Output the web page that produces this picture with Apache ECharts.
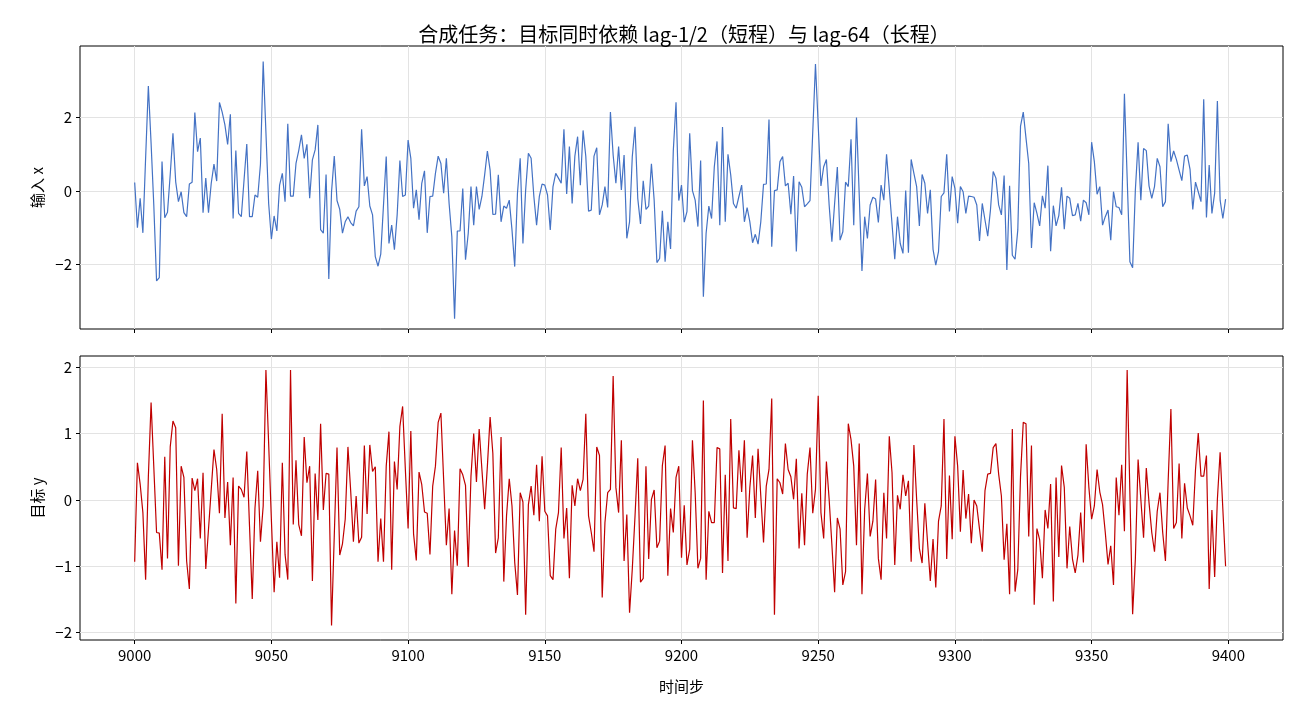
<!DOCTYPE html>
<html>
<head>
<meta charset="utf-8">
<script src="https://cdn.jsdelivr.net/npm/echarts@6/dist/echarts.min.js"></script>
<style>
html,body{margin:0;padding:0;background:#fff;}
#chart{width:1300px;height:715px;}
</style>
</head>
<body>
<div id="chart"></div>
<script>
// ---- data ----
const TITLE = '合成任务：目标同时依赖 lag-1/2（短程）与 lag-64（长程）';
const START_STEP = 9000;
const X_TICKS = [9000, 9050, 9100, 9150, 9200, 9250, 9300, 9350, 9400];
const TOP_Y_TICKS = [-2, 0, 2];
const BOTTOM_Y_TICKS = [-2, -1, 0, 1, 2];

const inputX = [
 0.23,-1.0,-0.2,-1.14,0.9,2.86,1.3,-0.4,-2.45,-2.36,
 0.8,-0.73,-0.58,0.45,1.57,0.25,-0.29,-0.02,-0.59,-0.7,
 0.19,0.24,2.14,1.07,1.44,-0.59,0.35,-0.59,0.21,0.73,
 0.27,2.41,2.15,1.8,1.27,2.09,-0.75,1.1,-0.61,-0.7,
 0.3,1.28,-0.7,-0.7,-0.11,-0.17,0.73,3.53,1.6,-0.34,
 -1.31,-0.68,-1.09,0.16,0.48,-0.29,1.83,-0.14,-0.14,0.75,
 1.1,1.53,0.89,1.27,-0.2,0.85,1.12,1.8,-1.05,-1.15,
 0.45,-2.4,-0.02,0.95,-0.26,-0.5,-1.15,-0.84,-0.7,-0.86,
 -0.95,-0.55,-0.43,1.68,0.14,0.39,-0.41,-0.65,-1.79,-2.05,
 -1.72,-0.39,0.94,-1.43,-0.93,-1.6,-0.65,0.83,-0.15,-0.11,
 1.39,0.89,-0.47,0.03,-0.78,0.21,0.55,-1.14,-0.15,-0.14,
 0.48,0.95,0.75,-0.06,0.89,-0.34,-1.25,-3.48,-1.09,-1.09,
 0.07,-1.87,-1.15,0.12,-0.93,0.12,-0.5,-0.15,0.44,1.09,
 0.57,-0.64,-0.63,0.44,-0.84,-0.41,-0.47,-0.25,-1.06,-2.06,
 -0.06,0.89,-1.43,0.03,1.03,0.89,-0.15,-0.93,-0.15,0.19,
 0.16,-0.11,-1.06,0.12,0.48,0.35,0.21,1.68,-0.08,1.21,
 -0.34,0.95,1.48,0.16,1.65,0.94,-0.55,-0.52,0.95,1.18,
 -0.65,-0.38,0.12,-0.45,2.15,0.98,0.21,1.21,0.03,0.98,
 -1.29,-0.84,0.94,1.75,-0.2,-0.9,0.28,-0.5,-0.41,0.74,
 -0.25,-1.95,-1.84,-0.54,-1.93,-0.84,-1.58,1.1,2.42,-0.26,
 0.16,-0.85,-0.56,1.57,0.01,-0.25,-0.97,0.83,-2.88,-1.15,
 -0.41,-0.75,0.66,1.35,-0.93,1.74,-0.84,1.0,0.44,-0.34,
 -0.47,-0.15,0.16,-0.84,-0.45,-0.84,-1.41,-1.18,-1.45,-0.84,
 0.18,0.19,1.95,-1.52,0.01,0.03,0.8,0.94,0.14,0.21,
 -0.63,0.41,-1.65,0.25,0.1,-0.43,-0.35,-0.26,1.6,3.46,
 1.8,0.14,0.66,0.86,-0.38,-1.38,-0.34,0.65,-1.34,-1.11,
 0.24,0.12,1.41,-0.93,2.0,-0.1,-2.18,-0.7,-1.29,-0.38,
 -0.17,-0.22,-0.86,0.16,-0.25,1.0,0.05,-0.9,-1.86,-0.7,
 -1.43,-1.7,0.01,-1.68,0.86,0.48,0.12,-0.95,0.45,0.21,
 -0.61,0.03,-1.59,-2.02,-1.65,-0.15,-0.05,1.0,-0.56,0.39,
 0.07,-0.88,0.12,-0.02,-0.61,-0.14,-0.15,-0.17,-0.38,-1.36,
 -0.34,-0.79,-1.23,-0.52,0.53,0.35,-0.38,-0.65,0.42,-2.15,
 0.14,-1.75,-1.86,-1.06,1.77,2.15,1.44,0.75,-1.55,-0.32,
 -0.61,-0.95,-0.13,-0.47,0.69,-1.64,-0.4,-0.95,-0.67,0.1,
 -1.04,-0.14,-0.2,-0.67,-0.65,-0.34,-0.82,-0.25,-0.32,-0.65,
 1.33,0.8,-0.09,0.12,-0.93,-0.7,-0.52,-1.34,-0.02,-0.43,
 -0.45,-0.65,2.65,0.36,-1.93,-2.09,0.03,1.33,-0.25,1.16,
 1.1,0.14,-0.2,0.12,0.89,0.66,-0.43,-0.29,1.83,0.8,
 1.09,0.86,0.57,0.28,0.95,0.98,0.59,-0.5,0.24,-0.02,
 -0.29,2.5,-0.72,0.71,-0.61,-0.06,2.45,-0.25,-0.75,-0.22
];

const targetY = [
 -0.93,0.56,0.24,-0.19,-1.2,0.35,1.47,0.49,-0.49,-0.5,
 -1.05,0.65,-0.88,0.8,1.19,1.09,-0.99,0.51,0.34,-0.92,
 -1.34,0.33,0.14,0.32,-0.58,0.41,-1.04,-0.44,0.16,0.76,
 0.46,-0.2,1.3,-0.27,0.27,-0.68,0.34,-1.56,0.21,0.16,
 0.04,0.73,-0.39,-1.49,-0.12,0.44,-0.63,-0.09,1.96,0.85,
 -0.3,-1.39,-0.63,-1.17,0.56,-0.82,-1.2,1.96,-0.37,0.6,
 -0.37,-0.54,0.95,0.26,0.51,-1.22,0.4,-0.3,1.15,-0.15,
 0.4,0.39,-1.89,-0.54,0.79,-0.83,-0.66,-0.29,0.8,0.14,
 -0.63,0.06,-0.65,-0.56,0.82,-0.21,0.83,0.43,0.5,-0.93,
 -0.28,-0.93,0.51,1.03,-1.05,0.58,0.16,1.11,1.41,0.46,
 -0.43,1.04,-0.51,-0.91,0.42,0.23,-0.18,-0.2,-0.82,0.21,
 0.51,1.17,1.31,0.31,-0.68,-0.13,-1.42,-0.46,-0.99,0.47,
 0.38,0.22,-1.01,0.36,1.0,0.27,1.07,0.46,-0.14,0.51,
 1.25,0.7,-0.8,-0.57,0.95,-1.23,-0.24,0.32,-0.09,-0.94,
 -1.43,0.11,-0.03,-1.73,-0.07,0.21,-0.23,0.53,-0.32,0.66,
 -0.17,-0.24,-1.14,-1.2,-0.44,-0.19,0.79,-0.58,-0.12,-1.18,
 0.22,-0.09,0.32,0.14,0.31,1.3,-0.24,-0.49,-0.78,0.8,
 0.67,-1.47,-0.34,0.11,0.16,1.87,0.19,-0.19,0.9,-0.92,
 -0.22,-1.7,-1.04,-0.24,0.63,-1.24,-1.18,0.51,-0.89,0.01,
 0.15,-0.72,-0.62,0.52,0.82,-1.14,-0.13,-0.49,0.34,0.51,
 -0.87,-0.08,-0.98,-0.74,0.9,0.11,-1.03,-0.88,1.5,-1.2,
 -0.17,-0.34,-0.34,0.79,0.77,-1.1,0.38,-0.92,1.22,-0.12,
 -0.13,0.75,0.12,0.9,-0.57,0.19,0.67,-0.27,0.77,0.06,
 -0.64,0.21,0.46,1.53,-1.73,0.32,0.26,0.09,0.85,0.46,
 0.35,0.01,0.62,-0.73,0.1,-0.68,0.39,0.79,-0.2,0.16,
 1.57,-0.19,-0.58,0.58,0.01,-0.67,-1.39,-0.27,-0.44,-1.28,
 -1.08,1.15,0.91,0.51,-0.68,0.85,-1.42,-0.14,0.4,-0.55,
 -0.32,0.31,-0.88,-1.2,0.11,-0.58,0.96,0.41,-0.98,0.07,
 -0.14,0.38,0.06,0.29,-0.93,0.83,0.01,-0.73,-0.95,-0.05,
 -0.64,-1.22,-0.59,-1.32,-0.32,-0.09,1.22,-0.89,0.37,-0.59,
 0.96,0.51,-0.48,0.45,-0.28,0.09,-0.65,0.0,-0.09,-0.44,
 -0.78,0.14,0.39,0.4,0.79,0.85,0.39,0.06,-0.9,-0.36,
 -1.42,1.07,-1.38,-1.05,0.36,1.17,1.15,-0.55,0.82,-1.58,
 -0.43,-0.6,-1.18,-0.15,-0.43,0.24,-1.53,0.34,-0.86,0.52,
 0.19,-1.03,-0.4,-0.89,-1.1,-0.83,-0.19,-0.94,0.84,0.19,
 -0.29,-0.09,0.46,0.12,-0.07,-0.49,-0.97,-0.69,-1.28,0.34,
 -0.23,0.53,-0.47,1.96,0.1,-1.72,-0.89,0.61,0.01,-0.57,
 0.48,-0.04,-0.49,-0.78,-0.17,0.11,-0.49,-0.92,0.29,1.37,
 -0.43,-0.34,0.55,-0.58,0.25,-0.12,-0.24,-0.38,0.46,1.01,
 0.36,0.36,0.67,-1.34,-0.15,-1.16,0.01,0.72,-0.14,-1.0
];

// ---- chart ----
const FONT = '"Noto Sans CJK SC", "Noto Sans", sans-serif';
const steps = inputX.map((_, i) => START_STEP + i);
const pairs = (vals) => vals.map((v, i) => [steps[i], v]);
const minusFmt = (v) => (v < 0 ? '\u2212' + Math.abs(v) : String(v));

const gridCommon = { left: 80, right: 17, show: true, borderColor: '#000', borderWidth: 1, backgroundColor: 'transparent' };
const splitLine = { show: true, lineStyle: { color: '#e3e3e3', width: 1 } };
const tick = { show: true, length: 4, inside: false, lineStyle: { color: '#000', width: 1 } };

function xAxis(gridIndex, showLabels) {
  return {
    type: 'value', gridIndex, min: 8980, max: 9420, position: 'bottom',
    axisLine: { show: false, onZero: false },
    axisTick: Object.assign({ customValues: X_TICKS }, tick),
    axisLabel: { show: showLabels, customValues: X_TICKS, color: '#000', fontSize: 15, fontFamily: FONT, margin: 8,
                 formatter: (v) => String(v) },
    splitLine,
    name: showLabels ? '时间步' : '',
    nameLocation: 'middle', nameGap: 39,
    nameTextStyle: { color: '#000', fontSize: 15, fontFamily: FONT }
  };
}
function yAxis(gridIndex, min, max, ticks, name) {
  return {
    type: 'value', gridIndex, min, max, position: 'left',
    axisLine: { show: false, onZero: false },
    axisTick: Object.assign({ customValues: ticks }, tick),
    axisLabel: { customValues: ticks, color: '#000', fontSize: 15, fontFamily: FONT, margin: 8, formatter: minusFmt },
    splitLine,
    name, nameLocation: 'middle', nameGap: 34, nameRotate: 90,
    nameTextStyle: { color: '#000', fontSize: 15, fontFamily: FONT }
  };
}

const chart = echarts.init(document.getElementById('chart'), null, { renderer: 'canvas' });
chart.setOption({
  animation: false,
  backgroundColor: '#fff',
  title: {
    text: TITLE, left: 679, top: 19, textAlign: 'center',
    textStyle: { color: '#000', fontSize: 20, fontWeight: 'normal', fontFamily: FONT }
  },
  grid: [
    Object.assign({ top: 46, height: 283 }, gridCommon),
    Object.assign({ top: 356, height: 284 }, gridCommon)
  ],
  xAxis: [xAxis(0, false), xAxis(1, true)],
  yAxis: [
    yAxis(0, -3.76, 3.95, TOP_Y_TICKS, '输入 x'),
    yAxis(1, -2.11, 2.17, BOTTOM_Y_TICKS, '目标 y')
  ],
  series: [
    { type: 'line', xAxisIndex: 0, yAxisIndex: 0, data: pairs(inputX), showSymbol: false,
      lineStyle: { color: '#4472c4', width: 1.2 }, itemStyle: { color: '#4472c4' } },
    { type: 'line', xAxisIndex: 1, yAxisIndex: 1, data: pairs(targetY), showSymbol: false,
      lineStyle: { color: '#c00000', width: 1.2 }, itemStyle: { color: '#c00000' } }
  ]
});
</script>
</body>
</html>
